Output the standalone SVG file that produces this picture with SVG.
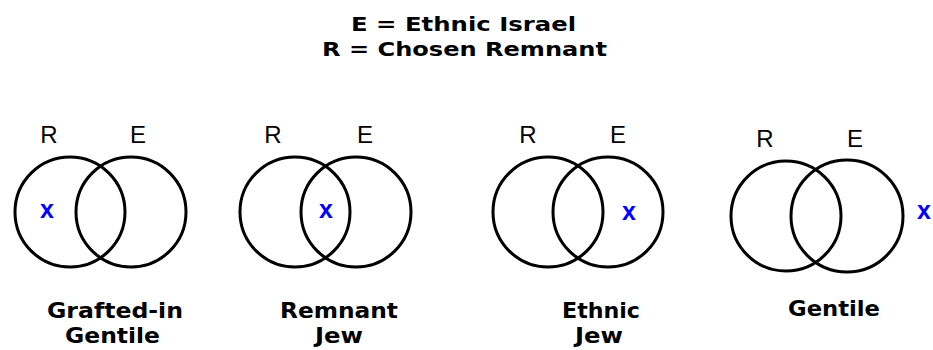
<svg xmlns="http://www.w3.org/2000/svg" width="933" height="350" viewBox="0 0 933 350">
<style>
.c{fill:none;stroke:#000;stroke-width:3}
.t{font-family:"DejaVu Sans","Liberation Sans",sans-serif;font-weight:bold;font-size:21px;fill:#000}
.h{font-family:"DejaVu Sans","Liberation Sans",sans-serif;font-weight:bold;font-size:20px;fill:#000}
.l{font-family:"Liberation Sans",Arial,sans-serif;font-size:24px;fill:#000;text-anchor:middle}
.x{font-family:"Liberation Sans",Arial,sans-serif;font-weight:bold;font-size:25px;fill:#0000ff;text-anchor:middle}
</style>
<rect width="933" height="350" fill="#fff"/>
<g id="title">
<text class="h" x="351" y="31" textLength="225" lengthAdjust="spacingAndGlyphs">E = Ethnic Israel</text>
<text class="h" x="322" y="56" textLength="285" lengthAdjust="spacingAndGlyphs">R = Chosen Remnant</text>
</g>
<g id="grafted-in-gentile">
<circle class="c" cx="70" cy="212" r="55"/>
<circle class="c" cx="131" cy="212" r="55"/>
<text class="l" x="49" y="143">R</text>
<text class="l" x="138" y="143">E</text>
<text class="x" x="47" y="218">x</text>
<text class="t" x="47" y="318" textLength="136" lengthAdjust="spacingAndGlyphs">Grafted-in</text>
<text class="t" x="65" y="343" textLength="95" lengthAdjust="spacingAndGlyphs">Gentile</text>
</g>
<g id="remnant-jew">
<circle class="c" cx="295" cy="212" r="55"/>
<circle class="c" cx="356" cy="212" r="55"/>
<text class="l" x="273" y="143">R</text>
<text class="l" x="365" y="143">E</text>
<text class="x" x="326" y="218">x</text>
<text class="t" x="280" y="318" textLength="118" lengthAdjust="spacingAndGlyphs">Remnant</text>
<text class="t" x="315" y="343" textLength="48" lengthAdjust="spacingAndGlyphs">Jew</text>
</g>
<g id="ethnic-jew">
<circle class="c" cx="548" cy="212" r="55"/>
<circle class="c" cx="608" cy="212" r="55"/>
<text class="l" x="528" y="143">R</text>
<text class="l" x="618" y="143">E</text>
<text class="x" x="629" y="220">x</text>
<text class="t" x="562" y="318" textLength="78" lengthAdjust="spacingAndGlyphs">Ethnic</text>
<text class="t" x="575" y="343" textLength="48" lengthAdjust="spacingAndGlyphs">Jew</text>
</g>
<g id="gentile">
<circle class="c" cx="786" cy="216" r="55"/>
<circle class="c" cx="847" cy="216" r="56"/>
<text class="l" x="765" y="147">R</text>
<text class="l" x="855" y="147">E</text>
<text class="x" x="924" y="219">x</text>
<text class="t" x="788" y="316" textLength="92" lengthAdjust="spacingAndGlyphs">Gentile</text>
</g>
<g id="connectors"/>
</svg>
